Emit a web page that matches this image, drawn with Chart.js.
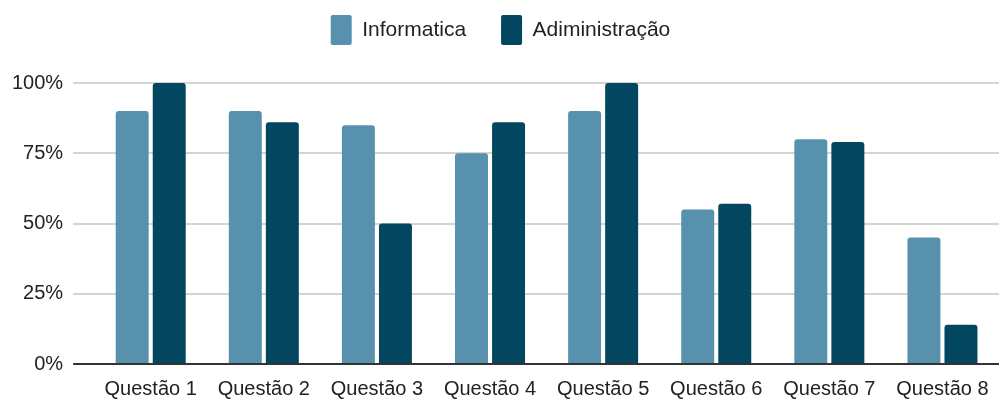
<!DOCTYPE html>
<html>
<head>
<meta charset="utf-8">
<script src="https://cdn.jsdelivr.net/npm/chart.js@4"></script>
<style>
  html, body { margin: 0; padding: 0; background: #fff; }
  #wrap { width: 1006px; height: 408px; }
</style>
</head>
<body>
<div id="wrap"><canvas id="questoesChart"></canvas></div>
<script>
// data
const questoes = ['Questão 1', 'Questão 2', 'Questão 3', 'Questão 4', 'Questão 5', 'Questão 6', 'Questão 7', 'Questão 8'];
const informatica = [90, 90, 85, 75, 90, 55, 80, 45];
const administracao = [100, 86, 50, 86, 100, 57, 79, 14];
const yTicks = [0, 25, 50, 75, 100];

Chart.defaults.font.family = "'Liberation Sans', Arial, sans-serif";
Chart.defaults.font.size = 20;
Chart.defaults.color = '#222';

// push the plot down a bit below the legend
const legendGap = {
    id: 'legendGap',
    beforeInit(chart) {
        const fit = chart.legend.fit;
        chart.legend.fit = function () {
            fit.bind(chart.legend)();
            this.height += 28;
        };
    }
};

const ctx = document.getElementById('questoesChart').getContext('2d');

new Chart(ctx, {
    type: 'bar',
    data: {
        labels: questoes,
        datasets: [
            {
                label: 'Informatica',
                data: informatica,
                backgroundColor: '#5891ae',
                borderRadius: 3,
                borderSkipped: 'start',
                barPercentage: 0.89,
                categoryPercentage: 0.655,
            },
            {
                label: 'Adiministração',
                data: administracao,
                backgroundColor: '#03465f',
                borderRadius: 3,
                borderSkipped: 'start',
                barPercentage: 0.89,
                categoryPercentage: 0.655,
            },
        ],
    },
    options: {
        responsive: true,
        maintainAspectRatio: false,
        animation: false,
        layout: {
            padding: { left: 2, right: 7, top: -20, bottom: -6 },
        },
        plugins: {
            legend: {
                position: 'top',
                labels: {
                    boxWidth: 21,
                    boxHeight: 30,
                    useBorderRadius: true,
                    borderRadius: 2,
                    padding: 35,
                    color: '#222',
                    font: { size: 21 },
                },
            },
            tooltip: { enabled: false },
        },
        scales: {
            x: {
                grid: { display: false, drawTicks: false },
                border: { display: false },
                ticks: { padding: 13, color: '#222' },
            },
            y: {
                min: 0,
                max: 100,
                afterBuildTicks: (axis) => {
                    axis.ticks = yTicks.map(v => ({ value: v }));
                },
                grid: {
                    color: (c) => c.tick && c.tick.value === 0 ? '#333' : '#d4d4d4',
                    lineWidth: 2,
                    tickLength: 21,
                },
                border: { display: false },
                ticks: {
                    padding: 10,
                    color: '#222',
                    callback: (v) => v + '%',
                },
            },
        },
    },
    plugins: [legendGap],
});
</script>
</body>
</html>
